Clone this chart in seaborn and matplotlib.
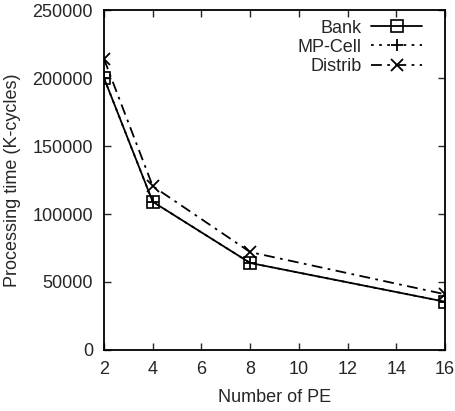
import matplotlib
matplotlib.use("Agg")
import matplotlib.pyplot as plt
import seaborn as sns
import pandas as pd

pe = [2, 4, 8, 16]
bank = [200000, 109000, 64000, 35500]
mpcell = [200000, 109000, 64000, 35500]
distrib = [214000, 120500, 72000, 41000]

x_ticks = [2, 4, 6, 8, 10, 12, 14, 16]
y_ticks = [0, 50000, 100000, 150000, 200000, 250000]

sns.set_style("ticks")
plt.rcParams['font.family'] = ['Liberation Sans', 'DejaVu Sans']
plt.rcParams['font.size'] = 13

fig = plt.figure(figsize=(4.55, 4.11), dpi=100)
ax = fig.add_axes([104/455, 1-350/411, (445-104)/455, (350-10)/411])

df = pd.DataFrame({"pe": pe, "Bank": bank, "MP-Cell": mpcell, "Distrib": distrib})

sns.lineplot(data=df, x="pe", y="Bank", ax=ax, color="black", lw=1.3, ls="-",
             marker="s", markersize=8, markerfacecolor="none", markeredgecolor="black",
             markeredgewidth=1.2, label="Bank")
sns.lineplot(data=df, x="pe", y="MP-Cell", ax=ax, color="black", lw=1.3, ls=(0, (1.5, 3)),
             marker="+", markersize=9, markeredgecolor="black", markeredgewidth=1.3,
             label="MP-Cell")
sns.lineplot(data=df, x="pe", y="Distrib", ax=ax, color="black", lw=1.3, ls=(0, (6, 3, 1.5, 3)),
             marker="x", markersize=8, markeredgecolor="black", markeredgewidth=1.3,
             label="Distrib")

ax.set_xlim(2, 16)
ax.set_ylim(0, 250000)
ax.set_xticks(x_ticks)
ax.set_yticks(y_ticks)
ax.set_xticklabels([str(v) for v in x_ticks])
ax.set_yticklabels([str(v) for v in y_ticks])
ax.tick_params(direction="in", length=5, width=1, top=True, right=True, pad=8, labelsize=13)
for s in ax.spines.values():
    s.set_linewidth(1.3)
    s.set_color("black")
ax.set_xlabel("Number of PE", fontsize=13, labelpad=8)
ax.set_ylabel("Processing time (K-cycles)", fontsize=13, labelpad=8)

leg = ax.legend(loc="upper right", bbox_to_anchor=(0.932, 0.972), frameon=False,
                markerfirst=False, handlelength=2.8, fontsize=13, borderaxespad=0,
                borderpad=0, labelspacing=0.12, handletextpad=0.55)

fig.savefig("out.png", dpi=100)
